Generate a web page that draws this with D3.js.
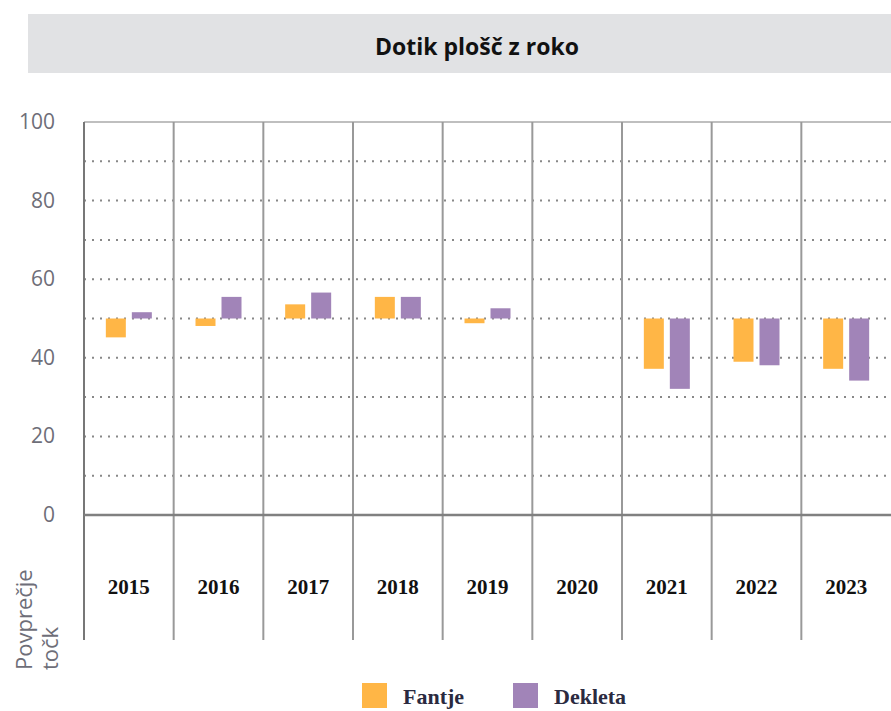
<!DOCTYPE html>
<html>
<head>
<meta charset="utf-8">
<script src="https://cdn.jsdelivr.net/npm/d3@7"></script>
<style>
body { margin: 0; background: #fff; }
</style>
</head>
<body>
<div id="chart"></div>
<script>
var width = 891;
var height = 711;

// data
var years = ["2015", "2016", "2017", "2018", "2019", "2020", "2021", "2022", "2023"];
var fantje = [45.2, 48.1, 53.6, 55.5, 48.8, null, 37.2, 39.0, 37.2];
var dekleta = [51.6, 55.5, 56.6, 55.5, 52.6, null, 32.1, 38.1, 34.2];
var yTicks = [0, 20, 40, 60, 80, 100];
var seriesNames = ["Fantje", "Dekleta"];
var seriesColors = ["#FFB646", "#A184B8"];
var baseline = 50;

var svg = d3.select("#chart")
    .append("svg")
    .attr("width", width)
    .attr("height", height);

// title box
svg.append("rect")
    .attr("x", 28)
    .attr("y", 14)
    .attr("width", 863)
    .attr("height", 59)
    .attr("fill", "#e1e2e4");

svg.append("text")
    .attr("x", 477)
    .attr("y", 55)
    .attr("text-anchor", "middle")
    .attr("font-family", "Open Sans, sans-serif")
    .attr("font-weight", "bold")
    .attr("font-size", 23)
    .attr("fill", "#111")
    .text("Dotik plošč z roko");

// scales
var x = d3.scaleBand()
    .domain(years)
    .range([84, 891]);

var y = d3.scaleLinear()
    .domain([0, 100])
    .range([515, 122]);

// dotted gridlines
var minor = d3.range(10, 100, 10);
svg.selectAll(".grid")
    .data(minor)
    .enter()
    .append("line")
    .attr("x1", 84)
    .attr("x2", 891)
    .attr("y1", function(d) { return y(d); })
    .attr("y2", function(d) { return y(d); })
    .attr("stroke", "#888")
    .attr("stroke-width", 2)
    .attr("stroke-dasharray", "2,6");

// top line
svg.append("line")
    .attr("x1", 84).attr("x2", 891)
    .attr("y1", y(100)).attr("y2", y(100))
    .attr("stroke", "#aaa")
    .attr("stroke-width", 1.5);

// vertical separators
svg.selectAll(".sep")
    .data(years)
    .enter()
    .append("line")
    .attr("x1", function(d) { return x(d); })
    .attr("x2", function(d) { return x(d); })
    .attr("y1", y(100))
    .attr("y2", 640)
    .attr("stroke", function(d, i) { return i == 0 ? "#777" : "#999"; })
    .attr("stroke-width", 2);

// zero line
svg.append("line")
    .attr("x1", 84).attr("x2", 891)
    .attr("y1", y(0)).attr("y2", y(0))
    .attr("stroke", "#808080")
    .attr("stroke-width", 2.5);

// y tick labels
svg.selectAll(".ytick")
    .data(yTicks)
    .enter()
    .append("text")
    .attr("x", 55)
    .attr("y", function(d) { return y(d) + 7; })
    .attr("text-anchor", "end")
    .attr("font-family", "Open Sans, sans-serif")
    .attr("font-size", 21)
    .attr("fill", "#6e6e78")
    .text(function(d) { return d; });

// y axis title
var yTitle = svg.append("text")
    .attr("transform", "translate(32,670) rotate(-90)")
    .attr("font-family", "Open Sans, sans-serif")
    .attr("font-size", 22)
    .attr("fill", "#6e6e78");
yTitle.append("tspan").attr("x", 0).attr("dy", 0).text("Povprečje");
yTitle.append("tspan").attr("x", 0).attr("dy", 26).text("točk");

// bars
var barW = 20;
var gap = 6;
var bw = x.bandwidth();
var series = [fantje, dekleta];

series.forEach(function(vals, s) {
    svg.selectAll(".bar" + s)
        .data(years.filter(function(d, i) { return vals[i] != null; }))
        .enter()
        .append("rect")
        .attr("x", function(d) {
            return x(d) + bw / 2 - gap / 2 - barW + s * (barW + gap);
        })
        .attr("y", function(d) {
            var v = vals[years.indexOf(d)];
            return y(Math.max(v, baseline));
        })
        .attr("width", barW)
        .attr("height", function(d) {
            var v = vals[years.indexOf(d)];
            return Math.abs(y(v) - y(baseline));
        })
        .attr("fill", seriesColors[s]);
});

// x labels
svg.selectAll(".xlab")
    .data(years)
    .enter()
    .append("text")
    .attr("x", function(d) { return x(d) + bw / 2; })
    .attr("y", 594)
    .attr("text-anchor", "middle")
    .attr("font-family", "Liberation Serif, serif")
    .attr("font-weight", "bold")
    .attr("font-size", 21)
    .attr("fill", "#111")
    .text(function(d) { return d; });

// legend
var legX = [362, 513];
seriesNames.forEach(function(name, i) {
    svg.append("rect")
        .attr("x", legX[i])
        .attr("y", 683)
        .attr("width", 25)
        .attr("height", 25)
        .attr("fill", seriesColors[i]);
    svg.append("text")
        .attr("x", legX[i] + 41)
        .attr("y", 704)
        .attr("font-family", "Liberation Serif, serif")
        .attr("font-weight", "bold")
        .attr("font-size", 22)
        .attr("fill", "#2a2a40")
        .text(name);
});
</script>
</body>
</html>
